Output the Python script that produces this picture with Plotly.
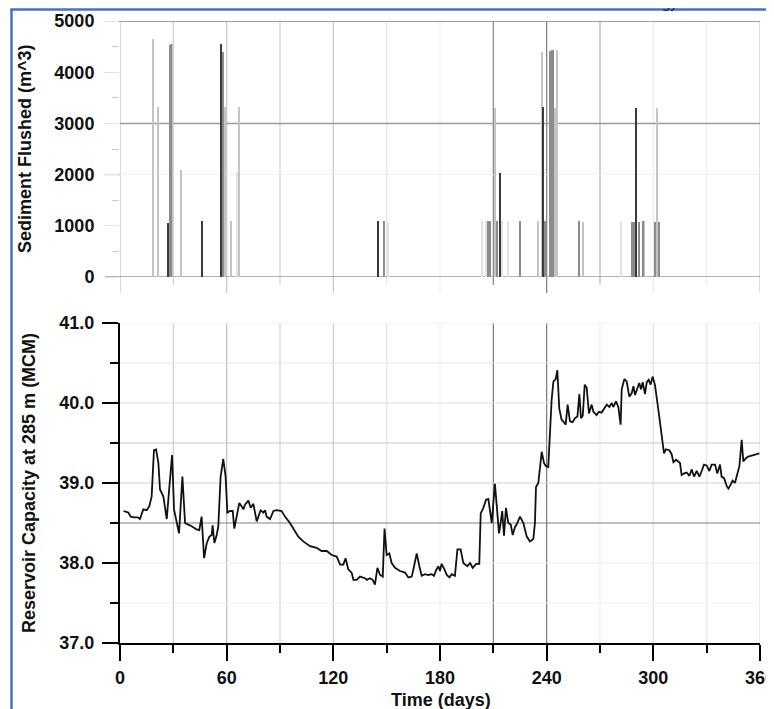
import plotly.graph_objects as go

# ---------------- data ----------------
capacity_days = [
    2, 4.7, 6, 8, 10, 11.2, 13.1, 15, 16.5, 17.8,
    19.1, 20.3, 21.6, 22.5, 24.4, 26.3, 27.8, 29.3, 30.4, 31.9,
    33.2, 35.1, 36.6, 38.4, 40.3, 43.1, 44.6, 45.9, 47.3, 48.8,
    50.3, 51.6, 52.1, 53.1, 54.4, 55.3, 56.6, 58.1, 59.4, 60.4,
    61.9, 63.4, 64.3, 65.6, 67.1, 68.4, 69.4, 70.3, 72.2, 73.5,
    75, 76.9, 79.1, 80.6, 81.6, 82.5, 84.4, 86.3, 88.1, 90.9,
    92.8, 95.6, 97.5, 100.3, 103.1, 106.9, 110.6, 113.4, 116.3, 119.1,
    121.9, 123.8, 125.6, 126.9, 128.4, 130.3, 131.3, 133.1, 135, 137.8,
    138.8, 140.6, 142.1, 143.4, 144.8, 146.3, 147.8, 148.8, 150, 151.5,
    152.8, 154.7, 157.5, 160.3, 162.2, 164.1, 165.4, 166.9, 168.4, 169.7,
    171.6, 173.4, 175.3, 176.6, 177.8, 179.1, 180, 180.9, 182.3, 183.8,
    185.3, 186.6, 188.4, 189.8, 191.6, 193.1, 195.4, 196.9, 198.4, 200.3,
    202.1, 202.9, 204.4, 205.9, 207.2, 208.1, 209.1, 210.9, 211.9, 213.2,
    214.1, 215, 216, 217.1, 218.4, 219.8, 220.9, 222.2, 223.1, 225,
    226.9, 228.8, 230.6, 232.5, 233.4, 234, 235.3, 236.3, 237.2, 238.5,
    239.6, 240.9, 241.9, 242.8, 243.8, 245.1, 246, 247.1, 248.4, 249.4,
    250.7, 251.8, 253.1, 254.6, 255.9, 257.3, 258.4, 259.3, 260.3, 261.4,
    262.5, 263.8, 265.3, 266.3, 268.1, 269.4, 270.9, 272.3, 273.8, 275.3,
    276.6, 277.5, 279, 280.3, 281.6, 282.2, 283.7, 285, 286.5, 287.8,
    288.8, 289.7, 291, 292.1, 293.1, 294, 295.3, 296.3, 297.4, 298.5,
    299.6, 300.9, 302.8, 304.7, 306, 307.1, 309, 310.3, 311.3, 312.8,
    314.1, 315, 315.9, 317.3, 318.8, 320.3, 321.6, 322.9, 324.4, 325.9,
    327.2, 328.5, 330, 331.5, 332.8, 334.7, 336, 337.5, 338.4, 339.8,
    341.3, 342.2, 343.5, 344.6, 345.9, 347.3, 348.4, 349.7, 350.6, 352.1,
    353.4, 354.8, 356.3, 357.8, 359.6,
]
capacity_mcm = [
    38.65, 38.63, 38.58, 38.57, 38.57, 38.55, 38.67, 38.66, 38.71, 38.83,
    39.41, 39.42, 39.25, 38.92, 38.83, 38.55, 38.96, 39.35, 38.67, 38.50,
    38.37, 39.08, 38.50, 38.48, 38.46, 38.42, 38.41, 38.58, 38.06, 38.25,
    38.33, 38.35, 38.47, 38.25, 38.35, 38.46, 39.08, 39.30, 39.08, 38.63,
    38.65, 38.65, 38.43, 38.58, 38.75, 38.71, 38.67, 38.73, 38.78, 38.69,
    38.74, 38.52, 38.66, 38.63, 38.66, 38.58, 38.55, 38.65, 38.66, 38.65,
    38.58, 38.50, 38.43, 38.33, 38.27, 38.21, 38.19, 38.15, 38.15, 38.10,
    38.08, 37.98, 37.98, 38.06, 37.92, 37.88, 37.79, 37.79, 37.83, 37.81,
    37.79, 37.81, 37.79, 37.73, 37.94, 37.85, 37.83, 38.43, 38.10, 38.12,
    38.00, 37.94, 37.90, 37.88, 37.82, 37.83, 37.96, 38.12, 37.96, 37.84,
    37.86, 37.85, 37.86, 37.84, 37.91, 37.96, 37.90, 37.99, 37.93, 37.85,
    37.82, 37.86, 37.84, 38.17, 38.17, 38.00, 37.96, 38.00, 37.94, 37.99,
    37.99, 38.62, 38.69, 38.79, 38.80, 38.67, 38.50, 38.99, 38.71, 38.37,
    38.50, 38.65, 38.34, 38.69, 38.50, 38.48, 38.35, 38.45, 38.48, 38.58,
    38.50, 38.33, 38.27, 38.30, 38.50, 38.95, 39.00, 39.17, 39.39, 39.25,
    39.21, 39.20, 39.63, 40.04, 40.27, 40.30, 40.41, 39.93, 39.79, 39.77,
    39.73, 39.98, 39.77, 39.76, 39.81, 39.83, 40.11, 39.81, 39.84, 40.23,
    40.19, 39.87, 39.98, 39.89, 39.85, 39.89, 39.88, 39.93, 39.98, 39.95,
    40.00, 39.95, 40.02, 39.95, 39.73, 40.17, 40.30, 40.27, 40.08, 40.12,
    40.21, 40.10, 40.19, 40.25, 40.17, 40.26, 40.11, 40.26, 40.29, 40.23,
    40.33, 40.23, 39.92, 39.59, 39.37, 39.42, 39.41, 39.36, 39.26, 39.29,
    39.27, 39.25, 39.10, 39.12, 39.13, 39.09, 39.17, 39.08, 39.15, 39.08,
    39.15, 39.23, 39.22, 39.15, 39.23, 39.23, 39.12, 39.23, 39.08, 39.06,
    38.96, 38.93, 38.98, 39.03, 39.00, 39.10, 39.21, 39.54, 39.27, 39.31,
    39.33, 39.34, 39.35, 39.36, 39.37,
]

# sediment flushing events, grouped by how strongly they are drawn
flush_dark_days = [27.2, 46.3, 57.0, 145.3, 213.9, 238.1, 290.1]
flush_dark_m3 = [1050, 1090, 4550, 1090, 2040, 3320, 3300]

flush_mid_days = [28.0, 28.6, 58.1, 148.7, 207.2, 208.1, 212.2, 225.0, 239.0,
                  241.9, 242.8, 243.8, 258.2, 288.2, 289.3, 291.8, 294.0,
                  300.9, 303.4]
flush_mid_m3 = [4530, 4550, 4400, 1090, 1090, 1090, 1090, 1090, 1090,
                4420, 4440, 4430, 1100, 1080, 1080, 1080, 1090,
                1080, 1080]

flush_light_days = [18.8, 21.4, 29.3, 34.1, 56.6, 59.3, 62.3, 66.9, 211.0,
                    235.3, 237.2, 244.7, 245.8, 260.6, 294.9, 302.2]
flush_light_m3 = [4650, 3330, 4560, 2090, 1090, 3330, 1090, 3330, 3310,
                  1090, 4400, 3310, 4430, 1080, 1090, 3295]

flush_faint_days = [66.0, 150.9, 203.4, 205.7, 215.0, 218.0, 281.8]
flush_faint_m3 = [2060, 1080, 1090, 1090, 1090, 1090, 1090]

x_ticks = [0, 60, 120, 180, 240, 300, 360]
grid_days = list(range(0, 361, 30))
cap_ticks = [37.0, 38.0, 39.0, 40.0, 41.0]
flush_ticks = [0, 1000, 2000, 3000, 4000, 5000]

# ---------------- styling ----------------
FONT = "Liberation Sans, Arial, Helvetica, sans-serif"
DARK, MID, LIGHT, FAINT = "#3a3a3a", "#8c8c8c", "#c4c4c4", "#e2e2e2"

top_grid_color = {0: "#c6c6c6", 30: "#d2d2d2", 60: "#c8c8c8", 90: "#d6d6d6",
                  120: "#cacaca", 150: "#e6e6e6", 180: "#f2f2f2", 210: "#8e8e8e",
                  240: "#858585", 270: "#b8b8b8", 300: "#ececec", 330: "#eeeeee",
                  360: "#cdcdcd"}
bot_grid_color = {30: "#d0d0d0", 60: "#bdbdbd", 90: "#d4d4d4", 120: "#cdcdcd",
                  150: "#e4e4e4", 180: "#f0f0f0", 210: "#7a7a7a", 240: "#7a7a7a",
                  270: "#ececec", 300: "#e0e0e0", 330: "#e6e6e6", 360: "#dcdcdc"}
bot_hgrid_color = {37.5: "#f2f2f2", 38.0: "#eeeeee", 38.5: "#808080", 39.0: "#d2d2d2",
                   39.5: "#c6c6c6", 40.0: "#dddddd", 40.5: "#e6e6e6", 41.0: "#eeeeee"}

fig = go.Figure()

for days, vals, col in [(flush_faint_days, flush_faint_m3, FAINT),
                        (flush_light_days, flush_light_m3, LIGHT),
                        (flush_mid_days, flush_mid_m3, MID),
                        (flush_dark_days, flush_dark_m3, DARK)]:
    fig.add_trace(go.Bar(x=days, y=vals, width=0.6, marker=dict(color=col, line=dict(width=0)),
                         xaxis="x", yaxis="y", showlegend=False, hoverinfo="x+y"))

fig.add_trace(go.Scatter(x=capacity_days, y=capacity_mcm, mode="lines",
                         line=dict(color="#111111", width=1.8),
                         xaxis="x2", yaxis="y2", showlegend=False))

shapes = []
# top panel vertical grid + ticks extending below
for d in grid_days:
    ext = 16 / 256 if d % 60 == 0 else 8 / 256
    shapes.append(dict(type="line", xref="x", yref="y domain", x0=d, x1=d,
                       y0=-ext, y1=1, line=dict(color=top_grid_color[d], width=1.3), layer="below"))
# top panel horizontal lines
shapes.append(dict(type="line", xref="x domain", yref="y", x0=0, x1=1, y0=2000, y1=2000,
                   line=dict(color="#efefef", width=1), layer="below"))
shapes.append(dict(type="line", xref="x domain", yref="y", x0=0, x1=1, y0=3000, y1=3000,
                   line=dict(color="#9a9a9a", width=1.5), layer="below"))
shapes.append(dict(type="line", xref="x domain", yref="y", x0=-15 / 640, x1=1, y0=5000, y1=5000,
                   line=dict(color="#808080", width=1.3), layer="below"))
shapes.append(dict(type="line", xref="x domain", yref="y", x0=-15 / 640, x1=1, y0=0, y1=0,
                   line=dict(color="#9a9a9a", width=1.3), layer="below"))
shapes.append(dict(type="line", xref="x domain", yref="y", x0=-15 / 640, x1=0, y0=2000, y1=2000,
                   line=dict(color="#bdbdbd", width=1.3), layer="below"))
# bottom panel grid
for d in grid_days[1:]:
    shapes.append(dict(type="line", xref="x2", yref="y2 domain", x0=d, x1=d, y0=0, y1=1,
                       line=dict(color=bot_grid_color[d], width=1.2), layer="below"))
for v, c in bot_hgrid_color.items():
    shapes.append(dict(type="line", xref="x2 domain", yref="y2", x0=0, x1=1, y0=v, y1=v,
                       line=dict(color=c, width=1.2), layer="below"))
# blue frame of the figure
BLUE = "#4472c4"
TOP_Y = (643 - 9.5) / 622
shapes.append(dict(type="line", xref="paper", yref="paper", x0=-108.5 / 640, x1=-108.5 / 640,
                   y0=TOP_Y, y1=(643 - 720) / 622, line=dict(color=BLUE, width=2.5)))
shapes.append(dict(type="line", xref="paper", yref="paper", x0=-109.7 / 640, x1=(780 - 120) / 640,
                   y0=TOP_Y, y1=TOP_Y, line=dict(color=BLUE, width=2.5)))

tickfont = dict(family=FONT, size=18, color="#111111", weight="bold")
titlefont = dict(family=FONT, size=18, color="#111111", weight="bold")

annotations = [
    dict(text="Sediment Flushed (m^3)", textangle=-90, xref="paper", yref="paper",
         x=(25 - 120) / 640, y=(643 - 149) / 622, showarrow=False, font=titlefont,
         xanchor="center", yanchor="middle"),
    dict(text="Reservoir Capacity at 285 m (MCM)", textangle=-90, xref="paper", yref="paper",
         x=(29 - 120) / 640, y=(643 - 483) / 622, showarrow=False, font=titlefont,
         xanchor="center", yanchor="middle"),
    dict(text="Time (days)", xref="paper", yref="paper", x=(441 - 120) / 640,
         y=(643 - 700) / 622, showarrow=False, font=titlefont, xanchor="center", yanchor="middle"),
    dict(text="gy.", xref="paper", yref="paper", x=(683 - 120) / 640, y=(643 - 13) / 622,
         showarrow=False, font=dict(family=FONT, size=15, color="#222222"),
         xanchor="right", yanchor="bottom"),
]

# The page body has an 8 px margin, so the figure is 8 px smaller and all
# margins are expressed in figure pixels (page pixels minus 8).
fig.update_layout(
    width=766, height=701,
    margin=dict(l=112, r=14, t=13, b=66, autoexpand=False),
    paper_bgcolor="white", plot_bgcolor="rgba(0,0,0,0)",
    barmode="overlay", bargap=0,
    shapes=shapes, annotations=annotations,
    xaxis=dict(domain=[0, 1], anchor="y", range=[0, 360], showticklabels=False,
               showgrid=False, zeroline=False, ticks="", showline=False, automargin=False),
    yaxis=dict(domain=[366 / 622, 1], anchor="x", range=[0, 5000], tickvals=flush_ticks,
               ticks="outside", ticklen=15, tickwidth=1.2, tickcolor="#e4e4e4",
               minor=dict(dtick=500, ticks="outside", ticklen=7, tickcolor="#c8c8c8", tickwidth=1.2),
               showgrid=False, zeroline=False, showline=False, tickfont=tickfont,
               ticklabelstandoff=6, automargin=False),
    xaxis2=dict(domain=[0, 1], anchor="y2", range=[0, 360], tickvals=x_ticks,
                ticks="outside", ticklen=16, tickwidth=2, tickcolor="black",
                minor=dict(dtick=30, tick0=0, ticks="outside", ticklen=8, tickwidth=2, tickcolor="black"),
                showline=True, linewidth=2, linecolor="black", showgrid=False, zeroline=False,
                tickfont=tickfont, ticklabelstandoff=1, ticklabeloverflow="allow", automargin=False),
    yaxis2=dict(domain=[0, 320 / 622], anchor="x2", range=[37, 41], tickvals=cap_ticks,
                tickformat=".1f", ticks="outside", ticklen=16, tickwidth=2, tickcolor="black",
                minor=dict(dtick=0.5, tick0=37, ticks="outside", ticklen=8, tickwidth=2, tickcolor="black"),
                showline=True, linewidth=2, linecolor="black", showgrid=False, zeroline=False,
                tickfont=tickfont, ticklabelstandoff=4, automargin=False),
)

fig.write_html("out.html")
